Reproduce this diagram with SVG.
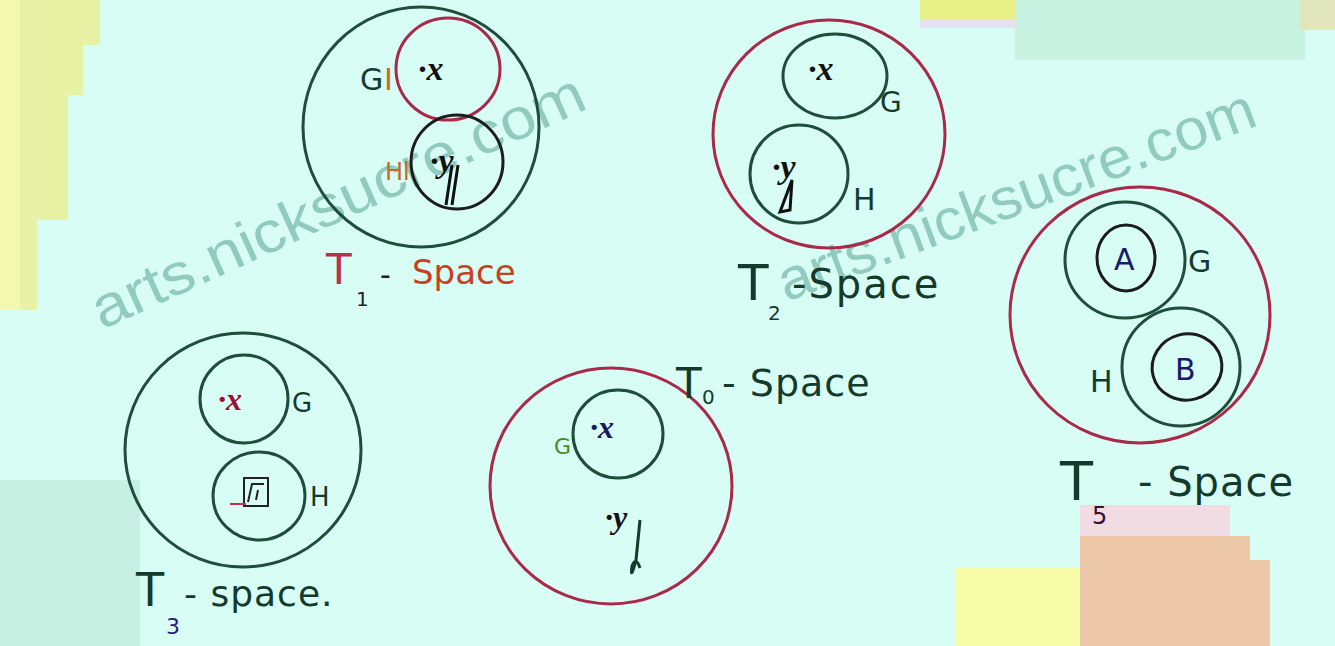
<svg xmlns="http://www.w3.org/2000/svg" width="1335" height="646" viewBox="0 0 1335 646">
<style>
.c{fill:none;stroke-width:3}
.g{stroke:#1e4d3c}
.r{stroke:#a82a48}
.k{stroke:#1c1c1c}
.t{font-family:"DejaVu Sans","Liberation Sans",sans-serif;fill:#143a2c}
.m{font-family:"Liberation Serif","DejaVu Serif",serif;font-style:italic;font-weight:bold;fill:#111}
.wm{font-family:"Liberation Sans","DejaVu Sans",sans-serif;font-size:58px;fill:#3a8f7a;fill-opacity:0.45}
</style>
<!-- background -->
<rect width="1335" height="646" fill="#d8fdf5"/>
<path d="M0 0 H100 V45 H83 V95 H68 V220 H37 V310 H0 Z" fill="#e8f2a4"/>
<rect x="0" y="0" width="20" height="310" fill="#f2f8b0"/>
<rect x="920" y="0" width="130" height="20" fill="#e8f088"/>
<rect x="920" y="20" width="130" height="8" fill="#e6e2f0"/>
<rect x="1015" y="0" width="290" height="60" fill="#c8f3e3"/>
<rect x="1300" y="0" width="35" height="30" fill="#e2e6bc"/>
<rect x="0" y="480" width="140" height="166" fill="#c6f0e2"/>
<rect x="955" y="568" width="125" height="78" fill="#f6fca8"/>
<rect x="1080" y="536" width="170" height="110" fill="#ecc8a8"/>
<rect x="1240" y="560" width="30" height="86" fill="#ecc8a8"/>
<rect x="1080" y="505" width="150" height="31" fill="#f0dce2"/>
<!-- watermark -->
<text class="wm" transform="translate(102,330) rotate(-24.5)" textLength="536" lengthAdjust="spacingAndGlyphs">arts.nicksucre.com</text>
<text class="wm" transform="translate(786,302) rotate(-20.5)" textLength="506" lengthAdjust="spacingAndGlyphs">arts.nicksucre.com</text>
<!-- T1 space -->
<g id="t1">
<ellipse class="c g" cx="421" cy="127" rx="118" ry="120"/>
<ellipse class="c r" cx="448" cy="69" rx="52" ry="51"/>
<ellipse class="c k" cx="457" cy="162" rx="46" ry="47"/>
<text class="t" x="360" y="90" font-size="30">G</text>
<text class="t" x="384" y="90" font-size="30" style="fill:#c86a20">I</text>
<text class="m" x="418" y="80" font-size="34">·x</text>
<text class="t" x="385" y="180" font-size="24" style="fill:#c86a20">Hl</text>
<text class="m" x="430" y="172" font-size="34">·y</text>
<path d="M452 165 L446 205 M458 165 L452 205" stroke="#111" stroke-width="3" fill="none"/>
<text class="t" x="326" y="284" font-size="42" style="fill:#b8304c">T</text>
<text class="t" x="356" y="306" font-size="20" style="fill:#222">1</text>
<text class="t" x="380" y="285" font-size="30" style="fill:#222">-</text>
<text class="t" x="412" y="284" font-size="34" style="fill:#c8401e">Space</text>
</g>
<!-- T2 space -->
<g id="t2">
<ellipse class="c r" cx="829" cy="134" rx="116" ry="114" stroke="#7a2036"/>
<ellipse class="c g" cx="835" cy="76" rx="52" ry="42"/>
<ellipse class="c g" cx="799" cy="174" rx="49" ry="49"/>
<text class="m" x="808" y="80" font-size="34">·x</text>
<text class="t" x="880" y="112" font-size="28">G</text>
<text class="m" x="772" y="178" font-size="34">·y</text>
<path d="M792 180 L780 212 L790 210 Z" stroke="#111" stroke-width="3" fill="none"/>
<text class="t" x="853" y="210" font-size="30">H</text>
<text class="t" x="738" y="300" font-size="50">T</text>
<text class="t" x="768" y="320" font-size="20">2</text>
<text class="t" x="792" y="298" font-size="40" letter-spacing="2">-Space</text>
</g>
<!-- T5 space -->
<g id="t5">
<ellipse class="c r" cx="1140" cy="315" rx="130" ry="128" stroke="#8a2640"/>
<ellipse class="c g" cx="1125" cy="260" rx="60" ry="58"/>
<ellipse class="c k" cx="1126" cy="258" rx="29" ry="33"/>
<text class="t" x="1114" y="270" font-size="30" style="fill:#1a1a6a">A</text>
<text class="t" x="1188" y="272" font-size="30">G</text>
<ellipse class="c g" cx="1181" cy="367" rx="59" ry="59"/>
<ellipse class="c k" cx="1187" cy="367" rx="35" ry="33" transform="rotate(-15 1187 367)"/>
<text class="t" x="1175" y="380" font-size="30" style="fill:#1a1a6a">B</text>
<text class="t" x="1090" y="392" font-size="30">H</text>
<text class="t" x="1060" y="500" font-size="54">T</text>
<text class="t" x="1092" y="524" font-size="24" style="fill:#3a1030">5</text>
<text class="t" x="1138" y="496" font-size="40" letter-spacing="1">- Space</text>
</g>
<!-- T3 space -->
<g id="t3">
<ellipse class="c g" cx="243" cy="450" rx="118" ry="117" stroke="#143a2c"/>
<ellipse class="c g" cx="244" cy="399" rx="44" ry="44"/>
<ellipse class="c g" cx="259" cy="496" rx="46" ry="44"/>
<text class="m" x="218" y="410" font-size="32" style="fill:#9a1030">·x</text>
<text class="t" x="292" y="412" font-size="26">G</text>
<rect x="244" y="478" width="24" height="28" fill="none" stroke="#222" stroke-width="2"/>
<path d="M248 502 L252 484 L264 484 M256 500 L258 490" stroke="#222" stroke-width="2" fill="none"/>
<path d="M230 504 L246 504" stroke="#c83050" stroke-width="2"/>
<text class="t" x="310" y="506" font-size="26">H</text>
<text class="t" x="136" y="606" font-size="46">T</text>
<text class="t" x="166" y="634" font-size="22" style="fill:#2a1a7a">3</text>
<text class="t" x="184" y="606" font-size="36" letter-spacing="1">- space.</text>
</g>
<!-- T0 space -->
<g id="t0">
<ellipse class="c r" cx="611" cy="486" rx="121" ry="118" stroke="#8a2640"/>
<ellipse class="c g" cx="618" cy="434" rx="45" ry="44"/>
<text class="t" x="554" y="454" font-size="22" style="fill:#4a8a20">G</text>
<text class="m" x="590" y="438" font-size="32" style="fill:#1a1a5a">·x</text>
<text class="m" x="605" y="528" font-size="32">·y</text>
<path d="M640 520 L636 560 Q630 582 632 566 Q636 556 640 568" stroke="#143a2c" stroke-width="3" fill="none"/>
<text class="t" x="676" y="398" font-size="42">T</text>
<text class="t" x="702" y="404" font-size="20">0</text>
<text class="t" x="722" y="396" font-size="38" letter-spacing="1">- Space</text>
</g>
</svg>
